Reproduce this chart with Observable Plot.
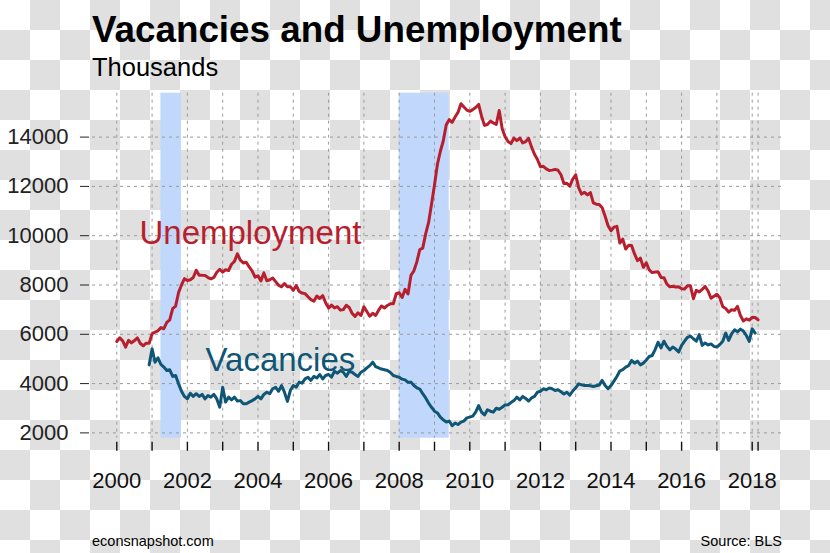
<!DOCTYPE html>
<html>
<head>
<meta charset="utf-8">
<script src="https://cdn.jsdelivr.net/npm/d3@7"></script>
<script src="https://cdn.jsdelivr.net/npm/@observablehq/plot@0.6"></script>
<style>
  html, body { margin: 0; padding: 0; }
  body {
    width: 830px; height: 553px; overflow: hidden; position: relative;
    font-family: "Liberation Sans", Arial, Helvetica, sans-serif;
    background: repeating-conic-gradient(#e0e0e0 0 25%, #ffffff 0 50%) 0 0 / 60px 60px;
  }
  #chart { position: absolute; left: 0; top: 0; }
  .t { position: absolute; white-space: nowrap; line-height: 1; color: #000; }
  #title { left: 92px; top: 12px; font-size: 36.8px; font-weight: bold; }
  #subtitle { left: 92px; top: 54.5px; font-size: 25.5px; }
  #credit { left: 92px; top: 533.5px; font-size: 14.5px; }
  #source { right: 48px; top: 533.5px; font-size: 14.5px; }
</style>
</head>
<body>
<div id="chart"></div>
<div class="t" id="title">Vacancies and Unemployment</div>
<div class="t" id="subtitle">Thousands</div>
<div class="t" id="credit">econsnapshot.com</div>
<div class="t" id="source">Source: BLS</div>
<script>
// ---- Data (thousands, monthly) ----
const unemploymentStart = "2000-01";
const unemployment = [
  5708, 5858, 5733, 5481, 5758, 5651, 5747, 5853, 5625, 5534, 5639, 5634,
  6023, 6089, 6141, 6271, 6226, 6484, 6583, 7042, 7142, 7694, 8003, 8258,
  8182, 8215, 8304, 8599, 8399, 8393, 8390, 8304, 8251, 8307, 8520, 8640,
  8520, 8618, 8588, 8842, 8957, 9266, 9011, 8896, 8921, 8732, 8576, 8317,
  8370, 8167, 8491, 8170, 8212, 8286, 8136, 7990, 7927, 8061, 7932, 7934,
  7784, 7980, 7737, 7672, 7651, 7524, 7406, 7345, 7553, 7453, 7566, 7279,
  7064, 7184, 7072, 7120, 6980, 7001, 7175, 7091, 6847, 6727, 6872, 6762,
  7116, 6927, 6731, 6850, 6766, 6979, 7149, 7067, 7170, 7237, 7240, 7645,
  7685, 7497, 7822, 7637, 8395, 8575, 8937, 9438, 9494, 10074, 10538, 11286,
  12058, 12898, 13426, 13853, 14499, 14707, 14601, 14814, 15009, 15352, 15219, 15098,
  15046, 15113, 15202, 15325, 14849, 14474, 14512, 14648, 14579, 14516, 15081, 14348,
  14013, 13820, 13737, 13957, 13855, 13962, 13763, 13818, 13948, 13594, 13302, 13093,
  12797, 12813, 12713, 12646, 12660, 12692, 12656, 12471, 12115, 12124, 12005, 12298,
  12471, 11950, 11689, 11760, 11654, 11751, 11335, 11279, 11270, 11136, 10787, 10404,
  10202, 10349, 10380, 9702, 9859, 9460, 9608, 9599, 9262, 8990, 9090, 8717,
  8903, 8610, 8504, 8526, 8540, 8304, 8299, 8039, 7925, 7950, 7916, 7927,
  7849, 7833, 7968, 7967, 7446, 7785, 7720, 7825, 7941, 7755, 7462, 7546,
  7627, 7479, 7115, 7046, 6899, 6997, 6974, 7133, 6763, 6541, 6626, 6573,
  6688, 6680, 6585
];
const vacanciesStart = "2000-12";
const vacancies = [
  4760,
  5410, 4870, 5045, 4775, 4670, 4530, 4560, 4290, 4330, 3990, 3690, 3480,
  3380, 3610, 3480, 3590, 3480, 3560, 3380, 3520, 3450, 3560, 3380, 3045,
  3850, 3250, 3450, 3340, 3450, 3290, 3310, 3180, 3180, 3250, 3310, 3380,
  3480, 3380, 3560, 3650, 3590, 3790, 3850, 3690, 3920, 3650, 3280, 3720,
  3920, 3850, 4060, 4020, 4190, 4260, 4130, 4290, 4230, 4370, 4190, 4330,
  4370, 4260, 4500, 4420, 4530, 4460, 4290, 4500, 4460, 4370, 4290, 4460,
  4530, 4640, 4730, 4870, 4690, 4640, 4590, 4560, 4530, 4450, 4330, 4290,
  4260, 4180, 4150, 4050, 4060, 3920, 3830, 3780, 3590, 3420, 3210, 3040,
  2880, 2810, 2640, 2530, 2440, 2480, 2290, 2400, 2340, 2440, 2480, 2610,
  2640, 2680, 2840, 3110, 2840, 2730, 2940, 2880, 2840, 3000, 2960, 3040,
  3130, 3140, 3230, 3310, 3450, 3340, 3480, 3400, 3290, 3420, 3480, 3650,
  3690, 3790, 3750, 3820, 3790, 3720, 3750, 3670, 3580, 3650, 3530, 3700,
  3830, 3990, 3950, 3920, 3920, 3910, 3880, 3910, 3940, 4130, 3920, 3790,
  3920, 4100, 4290, 4510, 4570, 4670, 4730, 4940, 4830, 4910, 4760, 4830,
  4960, 5100, 5140, 5380, 5680, 5450, 5720, 5510, 5370, 5480, 5400, 5280,
  5550, 5720, 5880, 5930, 5820, 5720, 5990, 5550, 5650, 5570, 5610, 5510,
  5480, 5590, 5720, 6050, 5750, 6020, 6180, 6100, 6210, 6130, 5950, 5710,
  6220, 6050
];
const recessionStart = ["2001-04", "2008-01"];
const recessionEnd = ["2001-11", "2009-06"];
const yTicks = [2000, 4000, 6000, 8000, 10000, 12000, 14000];
const xTickYears = [2000, 2001, 2002, 2003, 2004, 2005, 2006, 2007, 2008, 2009,
                    2010, 2011, 2012, 2013, 2014, 2015, 2016, 2017, 2018];
const xTickLabels = ["2000", "2002", "2004", "2006", "2008", "2010", "2012", "2014", "2016", "2018"];
const seriesNames = ["Unemployment", "Vacancies"];

// ---- Helpers ----
const toYear = s => +s.slice(0, 4) + (+s.slice(5, 7) - 1) / 12;
const series = (start, values, name) =>
  values.map((v, i) => ({t: toYear(start) + i / 12, v, name}));

const unempData = series(unemploymentStart, unemployment, seriesNames[0]);
const vacData = series(vacanciesStart, vacancies, seriesNames[1]);
const recData = recessionStart.map((s, i) => ({a: toYear(s), b: toYear(recessionEnd[i])}));
const lastMonth = unempData[unempData.length - 1].t;
const xTicks = [...xTickYears, lastMonth];
const labelSet = new Set(xTickLabels);

const RED = "#b71f2e";
const TEAL = "#0f5676";
const gridStyle = {stroke: "#9a9a9a", strokeOpacity: 1, strokeWidth: 1, strokeDasharray: "3,4"};

const labels = [
  {t: 2000.643, v: 9671, name: seriesNames[0], color: RED},
  {t: 2002.513, v: 4531, name: seriesNames[1], color: TEAL}
];

const chart = Plot.plot({
  width: 830,
  height: 553,
  marginTop: 92.7,
  marginBottom: 115.3,
  marginLeft: 92,
  marginRight: 49,
  style: {background: "transparent", fontFamily: "'Liberation Sans', Arial, Helvetica, sans-serif", color: "#111", overflow: "visible"},
  x: {domain: [1999.312, 2018.83]},
  y: {domain: [1785, 15781]},
  marks: [
    Plot.rect(recData, {x1: "a", x2: "b", fill: "#c1d8fc"}),
    Plot.gridY(yTicks, gridStyle),
    Plot.gridX(xTicks, gridStyle),
    Plot.axisY(yTicks, {
      tickSize: 9, dx: -3, tickPadding: 12, fontSize: 22, label: null,
      tickFormat: d3.format("d"), color: "#222"
    }),
    Plot.axisX(xTicks, {
      tickSize: 9, dy: 4, tickPadding: 21.3, fontSize: 22, strokeWidth: 1.4, label: null,
      tickFormat: d => labelSet.has(String(d)) ? String(d) : "", color: "#111"
    }),
    Plot.line(vacData, {x: "t", y: "v", stroke: TEAL, strokeWidth: 3, strokeLinejoin: "round"}),
    Plot.line(unempData, {x: "t", y: "v", stroke: RED, strokeWidth: 3, strokeLinejoin: "round"}),
    Plot.text(labels, {
      x: "t", y: "v", text: "name", fill: "color",
      fontSize: 33, textAnchor: "start", lineAnchor: "bottom"
    })
  ]
});
document.getElementById("chart").appendChild(chart);
</script>
</body>
</html>
